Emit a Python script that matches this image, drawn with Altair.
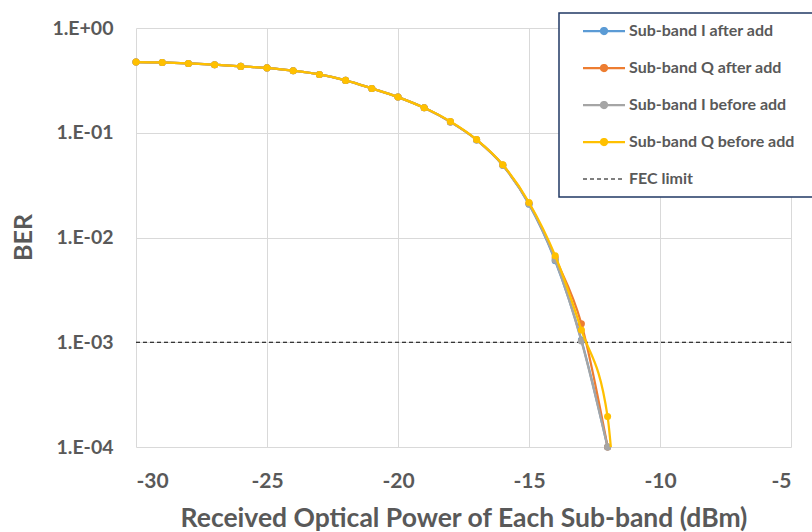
import altair as alt
import pandas as pd

# Received optical power per sub-band (dBm)
power_dbm = [-30, -29, -28, -27, -26, -25, -24, -23, -22, -21,
             -20, -19, -18, -17, -16, -15, -14, -13, -12]
power_q_before = [-30, -29, -28, -27, -26, -25, -24, -23, -22, -21,
                  -20, -19, -18, -17, -16, -15, -14, -13, -12, -11.8]

# Measured BER for each sub-band
ber_i_after = [0.473, 0.469, 0.459, 0.446, 0.430, 0.416, 0.391, 0.360, 0.316, 0.265,
               0.219, 0.173, 0.127, 0.0855, 0.0490, 0.0208, 0.0060, 0.00105, 0.0001]
ber_q_after = [0.473, 0.469, 0.459, 0.446, 0.430, 0.416, 0.391, 0.360, 0.316, 0.265,
               0.219, 0.173, 0.127, 0.0857, 0.0492, 0.0212, 0.0064, 0.0015, 0.0001]
ber_i_before = [0.473, 0.469, 0.459, 0.446, 0.430, 0.416, 0.391, 0.360, 0.316, 0.265,
                0.219, 0.173, 0.127, 0.0855, 0.0490, 0.0209, 0.0061, 0.00103, 0.0001]
ber_q_before = [0.473, 0.469, 0.459, 0.446, 0.430, 0.416, 0.391, 0.360, 0.316, 0.265,
                0.219, 0.173, 0.128, 0.0860, 0.0495, 0.0216, 0.0067, 0.00131, 0.000195,
                0.00006]

fec_limit = 1e-3

series_names = ["Sub-band I after add", "Sub-band Q after add",
                "Sub-band I before add", "Sub-band Q before add", "FEC limit"]
series_colors = ["#5B9BD5", "#ED7D31", "#A5A5A5", "#FFC000", "#000000"]

x_ticks = [-30, -25, -20, -15, -10, -5]
y_ticks = [1, 0.1, 0.01, 0.001, 0.0001]
y_tick_labels = ["1.E+00", "1.E-01", "1.E-02", "1.E-03", "1.E-04"]
y_min = 1e-4

frames = []
for name, xs, ys in [
    (series_names[0], power_dbm, ber_i_after),
    (series_names[1], power_dbm, ber_q_after),
    (series_names[2], power_dbm, ber_i_before),
    (series_names[3], power_q_before, ber_q_before),
]:
    frames.append(pd.DataFrame({"series": name, "power": xs, "ber": ys}))
curves = pd.concat(frames, ignore_index=True)
fec = pd.DataFrame({"series": [series_names[4]], "ber": [fec_limit]})

TEXT = "#595959"
FONT = "Lato"

# y tick labels in Excel-style scientific notation
label_expr = ""
for v, lab in zip(y_ticks, y_tick_labels):
    label_expr += f"abs(datum.value - {v}) < {v} * 0.01 ? '{lab}' : "
label_expr += "''"

x_enc = alt.X(
    "power:Q",
    scale=alt.Scale(domain=[-30, -5], nice=False, zero=False),
    axis=alt.Axis(
        values=x_ticks, labelExpr="datum.value + ''",
        title="Received Optical Power of Each Sub-band (dBm)",
        labelFontSize=21, labelPadding=23, titleFontSize=26.5,
        titleBaseline="alphabetic", titleY=79,
    ),
)
y_enc = alt.Y(
    "ber:Q",
    scale=alt.Scale(type="log", domain=[y_min, 1], nice=False),
    axis=alt.Axis(
        values=y_ticks, labelExpr=label_expr, title="BER",
        labelFontSize=19.5, labelPadding=23, titleFontSize=25,
        titleBaseline="alphabetic", titleX=-105, titleY=209,
    ),
)

# legend symbols: short line with a dot for series, plain dashed line for the limit
def ring(cx, r):
    return f"M{cx - r:.3f},0A{r},{r} 0 1,0 {cx + r:.3f},0A{r},{r} 0 1,0 {cx - r:.3f},0"

line_part = "M-1.4,0H1.4"
series_symbol = line_part + ring(0, 0.2) + ring(0, 0.1) + ring(0, 0.03)
fec_symbol = line_part

legend_spec = alt.Legend(
    title=" ", titleOrient="right", titleFontSize=10, titlePadding=20,
    orient="none", legendX=423, legendY=-15,
    symbolType=alt.ExprRef(expr=f"datum.value == 'FEC limit' ? '{fec_symbol}' : '{series_symbol}'"),
    symbolStrokeWidth=alt.ExprRef(expr="datum.value == 'FEC limit' ? 1 : 2.25"),
    symbolDash=alt.ExprRef(expr="datum.value == 'FEC limit' ? [4, 3] : [1, 0]"),
    symbolSize=900, symbolOffset=27, padding=10, rowPadding=21, labelOffset=17,
    labelFont=FONT, labelFontSize=16, labelFontWeight="bold", labelColor=TEXT,
    labelLimit=400,
    strokeColor="#203864", fillColor="#FFFFFF",
)

color_scale = alt.Scale(domain=series_names, range=series_colors)

layers = [
    alt.Chart(fec).mark_rule(strokeDash=[4, 3], strokeWidth=1).encode(
        y=y_enc,
        color=alt.Color("series:N", scale=color_scale, legend=legend_spec),
    )
]
for name in series_names[:4]:
    base = alt.Chart(curves).transform_filter(alt.datum.series == name)
    layers.append(
        base.mark_line(interpolate="monotone", strokeWidth=2.25, clip=True).encode(
            x=x_enc, y=y_enc,
            color=alt.Color("series:N", scale=color_scale, legend=None),
        )
    )
    layers.append(
        base.transform_filter(alt.datum.ber >= y_min)
        .mark_point(filled=True, size=50, opacity=1)
        .encode(
            x=x_enc, y=y_enc,
            color=alt.Color("series:N", scale=color_scale, legend=None),
        )
    )

chart = (
    alt.layer(*layers)
    .properties(
        width=655, height=419, autosize="none",
        padding={"left": 136, "top": 28, "right": 21, "bottom": 85},
        background="#FFFFFF",
    )
    .configure_view(stroke=None)
    .configure_axis(
        grid=True, gridColor="#D9D9D9", gridWidth=1, domain=False, ticks=False,
        tickSize=0, labelFont=FONT, labelFontWeight="bold", labelColor=TEXT,
        titleFont=FONT, titleFontWeight="bold", titleColor=TEXT,
    )
    .configure_legend(strokeWidth=1.5)
)

chart.save("out.html", embed_options={"renderer": "svg", "actions": False})
